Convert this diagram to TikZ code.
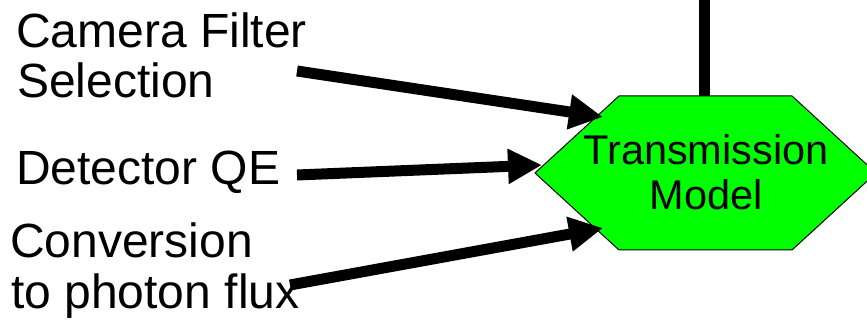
\documentclass[tikz,border=0pt]{standalone}
\usepackage{fontspec}
\setmainfont{Liberation Sans}
\usetikzlibrary{arrows.meta}
\begin{document}
\begin{tikzpicture}[x=1pt,y=-1pt,
  label/.style={anchor=base west,inner sep=0pt,font=\fontsize{48}{50}\selectfont},
  hextext/.style={inner sep=0pt,align=center,font=\fontsize{41.5}{45}\selectfont},
  feed/.style={line width=11pt,-{Triangle[length=34pt,width=33pt]}},
  hexfill/.style={fill={rgb,255:red,0;green,255;blue,0},draw=black,line width=1pt,line join=miter}]
\useasboundingbox (0,0) rectangle (867,320);

% hexagon outline
\coordinate (hL)  at (535,173);
\coordinate (hTL) at (619,96);
\coordinate (hTR) at (792,96);
\coordinate (hR)  at (876,173);
\coordinate (hBR) at (792,250);
\coordinate (hBL) at (619,250);
\path[hexfill] (hL) -- (hTL) -- (hTR) -- (hR) -- (hBR) -- (hBL) -- cycle;

\node[hextext,anchor=base] (tm1) at (706,165) {Transmission};
\node[hextext,anchor=base] (tm2) at (706,210) {Model};

% input labels
\node[label] (cam1) at (16,48) {Camera Filter};
\node[label] (cam2) at (17,98) {Selection};
\node[label] (det)  at (16,185) {Detector QE};
\node[label] (conv1) at (10,258) {Conversion};
\node[label] (conv2) at (11,308) {to photon flux};

% arrow start and end points
\coordinate (sCam)  at (297,71);
\coordinate (sDet)  at (297,175);
\coordinate (sConv) at (290,285);
\coordinate (tCam)  at (603,117);
\coordinate (tDet)  at (542,165);
\coordinate (tConv) at (603,228);
\coordinate (out)   at (704.5,0);

\draw[feed] (sCam) -- (tCam);
\draw[feed] (sDet) -- (tDet);
\draw[feed] (sConv) -- (tConv);

% output line leaving the top of the hexagon
\draw[line width=11pt] (704.5,96) -- (out);
\end{tikzpicture}
\end{document}
